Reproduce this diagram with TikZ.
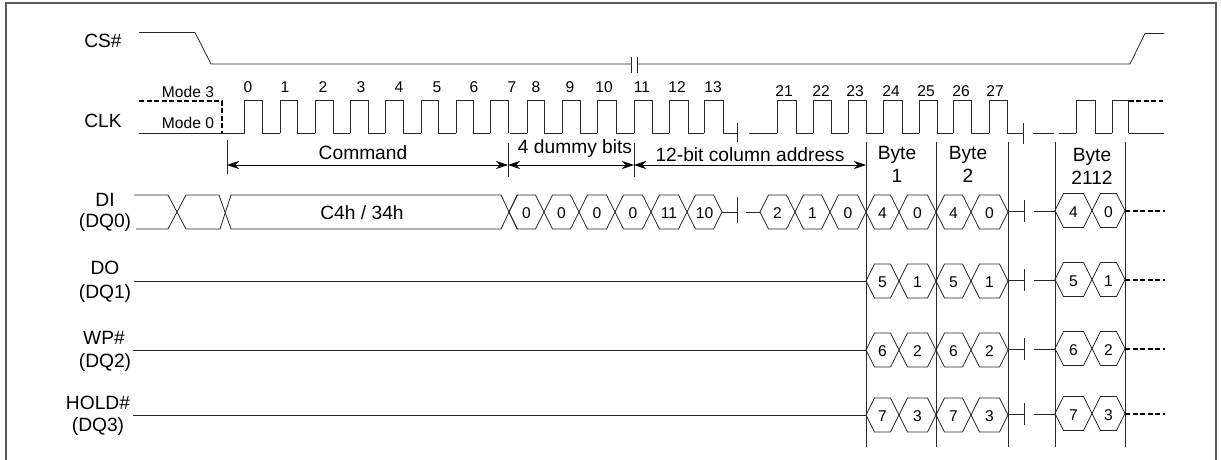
\documentclass[tikz,border=0pt]{standalone}
\usepackage{fontspec}
\setmainfont{Liberation Sans}
\usetikzlibrary{arrows.meta}
\definecolor{wirecol}{gray}{0.15}
\newcommand{\siglabel}{\fontsize{19.2}{18}\selectfont}
\newcommand{\bitlabel}{\fontsize{15.6}{16}\selectfont}
% one data cell on a bus line
\newcommand{\hexcell}[4]{
  \draw[wire] (#1,#3) -- (#1+8.5,#3-17) -- (#2-8.5,#3-17) -- (#2,#3)
    -- (#2-8.5,#3+17) -- (#1+8.5,#3+17) -- cycle;
  \node[bit] (hex#1#3) at ({(#1+#2)/2},#3+1.5) {#4};
}
% pair of cells with the stubs after the break
\newcommand{\byterow}[3]{
  \hexcell{866}{899}{#1}{#2}
  \hexcell{899}{936}{#1}{#3}
  \hexcell{936}{971}{#1}{#2}
  \hexcell{971}{1008}{#1}{#3}
  \draw[wire] (1008,#1-1) -- (1024,#1-1);
  \draw[wire] (1024,#1-12) -- (1024,#1+10);
  \draw[wire] (1034,#1-1) -- (1055,#1-1);
  \hexcell{1055}{1092}{#1-1.5}{#2}
  \hexcell{1092}{1125}{#1-1.5}{#3}
  \draw[dashwire] (1125,#1-1.5) -- (1165,#1-1.5);
}
\tikzset{
  wire/.style={color=wirecol, line width=0.8pt},
  dashwire/.style={black, line width=2pt, dash pattern=on 5pt off 2.5pt},
  sig/.style={font=\siglabel, inner sep=0pt},
  bit/.style={font=\bitlabel, inner sep=0pt},
  spanarrow/.style={black, line width=0.8pt, {Stealth[length=12pt,width=8pt]}-{Stealth[length=12pt,width=8pt]}},
}
\begin{document}
\begin{tikzpicture}[x=1pt,y=-1pt]
  \useasboundingbox (0,0) rectangle (1221,460);
  \draw[color=gray!70!black, line width=1.3pt] (6,460) -- (6,3) -- (1216,3) -- (1216,460);

  % signal names
  \node[sig] (csname) at (103,41) {CS\#};
  \node[sig] (clkname) at (103,121) {CLK};
  \node[sig] (diname) at (105,200) {DI};
  \node[sig] (dqzero) at (105,223) {(DQ0)};
  \node[sig] (doname) at (105,268) {DO};
  \node[sig] (dqone) at (105,294) {(DQ1)};
  \node[sig] (wpname) at (104,338) {WP\#};
  \node[sig] (dqtwo) at (105,363) {(DQ2)};
  \node[sig] (holdname) at (98,403) {HOLD\#};
  \node[sig] (dqthree) at (98,427) {(DQ3)};

  % CS#
  \draw[wire] (139,32.5) -- (195,32.5) -- (211,64) -- (631,64);
  \draw[wire] (631,57) -- (631,73);
  \draw[wire] (637,57) -- (637,73);
  \draw[wire] (637,64) -- (1130,64) -- (1145,33.5) -- (1164,33.5);

  % CLK
  \node[bit] (modethree) at (188,92) {Mode 3};
  \node[bit] (modezero) at (188,123) {Mode 0};
  \draw[dashwire] (139,101) -- (222,101) -- (222,133);
  \draw[wire] (139,133) -- (244.5,133);
  \foreach \riseat/\fallat/\lowto in {244.5/262/280, 280/297/315, 315/333/350, 350/368/385,
      385/403/421, 421/438/456, 456/473/490, 490/508/508}
    \draw[wire] (\riseat,133) -- (\riseat,100.5) -- (\fallat,100.5) -- (\fallat,133) -- (\lowto,133);
  \draw[wire] (510,133) -- (527,133);
  \foreach \riseat/\fallat/\lowto in {527/544/562, 562/580/597, 597/616/634, 634/652/669,
      669/688/704, 704/723/737}
    \draw[wire] (\riseat,133) -- (\riseat,100.5) -- (\fallat,100.5) -- (\fallat,133) -- (\lowto,133);
  \draw[wire] (737,123) -- (737,142);
  \draw[wire] (749,133) -- (777,133);
  \foreach \riseat/\fallat/\lowto in {777/796/813, 813/831/848, 848/866/883, 883/902/919,
      919/937/953, 953/971/989, 989/1007/1023}
    \draw[wire] (\riseat,133) -- (\riseat,100.5) -- (\fallat,100.5) -- (\fallat,133) -- (\lowto,133);
  \draw[wire] (1023,123) -- (1023,144);
  \draw[wire] (1033,133) -- (1054,133);
  \draw[wire] (1059,133) -- (1076,133);
  \foreach \riseat/\fallat/\lowto in {1076/1095/1112, 1112/1128.5/1128.5}
    \draw[wire] (\riseat,133) -- (\riseat,100.5) -- (\fallat,100.5) -- (\fallat,133) -- (\lowto,133);
  \draw[wire] (1128.5,133) -- (1164,133);
  \draw[dashwire] (1128.5,100.5) -- (1163,100.5);

  % clock numbers
  \foreach \clknum/\xpos in {0/248, 1/285, 2/323, 3/361, 4/399, 5/437, 6/474, 7/512,
      8/536, 9/570, 10/604, 11/642, 12/677, 13/713}
    \node[bit] (clk\clknum) at (\xpos,87) {\clknum};
  \foreach \clknum/\xpos in {21/784, 22/821, 23/855, 24/891, 25/926, 26/961, 27/995}
    \node[bit] (clk\clknum) at (\xpos,91) {\clknum};

  % phase markers
  \coordinate (cmdstart) at (227,165);
  \coordinate (cmdend) at (508,165);
  \coordinate (addrstart) at (634,165);
  \coordinate (addrend) at (866,165);
  \draw[wire] (227,140) -- (227,174);
  \draw[wire] (508,143) -- (508,177);
  \draw[wire] (634,143) -- (634,177);
  \foreach \xpos in {866, 936, 1008, 1055, 1125}
    \draw[wire] (\xpos,142) -- (\xpos,447);
  \draw[spanarrow] (cmdstart) -- (cmdend);
  \draw[spanarrow] (cmdend) -- (addrstart);
  \draw[spanarrow] (addrstart) -- (addrend);
  \node[sig] (cmdtext) at (363,153) {Command};
  \node[sig] (dummytext) at (575,149) {4 dummy bits};
  \node[sig] (addrtext) at (750,155) {12-bit column address};
  \node[sig, align=center] (byteone) at (897,164.5) {Byte\\[5pt]1};
  \node[sig, align=center] (bytetwo) at (968,164.5) {Byte\\[5pt]2};
  \node[sig, align=center] (bytelast) at (1092,166.5) {Byte\\[5pt]2112};

  % DI
  \draw[wire] (134,195) -- (168,195) -- (186,229);
  \draw[wire] (136,229) -- (168,229) -- (186,195) -- (219,195) -- (231,229) -- (501,229) -- (517,195);
  \draw[wire] (186,229) -- (220,229) -- (231,195) -- (501,195) -- (517,229);
  \node[sig] (cmdcode) at (362,213) {C4h / 34h};
  \foreach \leftx/\rightx/\cellval in {509/544/0, 544/579/0, 579/615/0, 615/651/0, 651/687/11, 687/722/10,
      760/795/2, 795/830/1, 830/866/0}
    {\hexcell{\leftx}{\rightx}{212}{\cellval}}
  \draw[wire] (722,212) -- (737,212);
  \draw[wire] (737,197) -- (737,223);
  \draw[wire] (746,212) -- (760,212);
  \byterow{212}{4}{0}

  % DO, WP#, HOLD#
  \draw[wire] (134,281) -- (866,281);
  \byterow{281}{5}{1}
  \draw[wire] (133,350) -- (866,350);
  \byterow{350}{6}{2}
  \draw[wire] (133,415) -- (866,415);
  \byterow{415}{7}{3}
\end{tikzpicture}
\end{document}
